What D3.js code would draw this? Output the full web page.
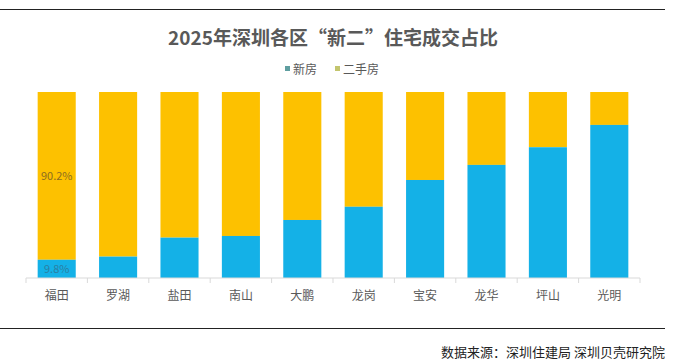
<!DOCTYPE html>
<html>
<head>
<meta charset="utf-8">
<script src="https://cdn.jsdelivr.net/npm/d3@7"></script>
<style>
  body { margin: 0; background: #fff; }
  svg { display: block; font-family: "Noto Sans CJK SC", "Noto Sans", sans-serif; }
</style>
</head>
<body>
<div id="viz"></div>
<script>
"use strict";

var w = 675;
var h = 362;

var districts = ["福田", "罗湖", "盐田", "南山", "大鹏", "龙岗", "宝安", "龙华", "坪山", "光明"];
var newShare = [9.8, 11.5, 21.7, 22.6, 31.2, 38.3, 52.7, 60.8, 70.3, 82.3];
var seriesNames = ["新房", "二手房"];
var colors = ["#14b1e7", "#fdc100"];

var svg = d3.select("#viz")
  .append("svg")
  .attr("width", w)
  .attr("height", h);

// frame lines
svg.append("line")
  .attr("x1", 0).attr("x2", 665).attr("y1", 9.5).attr("y2", 9.5)
  .attr("stroke", "#222").attr("stroke-width", 1.2);
svg.append("line")
  .attr("x1", 0).attr("x2", 665).attr("y1", 328.5).attr("y2", 328.5)
  .attr("stroke", "#222").attr("stroke-width", 1.2);

svg.append("text")
  .attr("x", 333)
  .attr("y", 45)
  .attr("text-anchor", "middle")
  .attr("font-size", 19)
  .attr("font-weight", "bold")
  .attr("fill", "#595959")
  .text("2025年深圳各区“新二”住宅成交占比");

// legend
var legendX = [285, 335];
var legend = svg.append("g");
seriesNames.forEach(function(name, i) {
  legend.append("rect")
    .attr("x", legendX[i]).attr("y", 66)
    .attr("width", 5).attr("height", 5)
    .attr("fill", i === 0 ? "#5f9ea0" : "#c3c56e");
  legend.append("text")
    .attr("x", legendX[i] + 8).attr("y", 73.5)
    .attr("font-size", 12)
    .attr("fill", "#595959")
    .text(name);
});

var x = d3.scaleBand()
  .domain(districts)
  .range([26, 640])
  .paddingInner(0.38)
  .paddingOuter(0.19);

var y = d3.scaleLinear()
  .domain([0, 100])
  .range([278, 92]);

var rows = districts.map(function(d, i) {
  return { name: d, share: newShare[i] };
});

var bars = svg.append("g");
bars.selectAll("rect.old")
  .data(rows).enter()
  .append("rect")
  .classed("old", true)
  .attr("x", function(d) { return x(d.name); })
  .attr("width", x.bandwidth())
  .attr("y", y(100))
  .attr("height", function(d) { return y(d.share) - y(100); })
  .attr("fill", colors[1]);

bars.selectAll("rect.new")
  .data(rows).enter()
  .append("rect")
  .classed("new", true)
  .attr("x", function(d) { return x(d.name); })
  .attr("width", x.bandwidth())
  .attr("y", function(d) { return y(d.share); })
  .attr("height", function(d) { return y(0) - y(d.share); })
  .attr("fill", colors[0]);

// only the first bar's labels are legible
var first = rows[0];
svg.append("text")
  .attr("x", x(first.name) + x.bandwidth() / 2)
  .attr("y", y((100 + first.share) / 2) + 4)
  .attr("text-anchor", "middle")
  .attr("font-size", 11)
  .attr("fill", "#8c6d1f")
  .text((100 - first.share).toFixed(1) + "%");
svg.append("text")
  .attr("x", x(first.name) + x.bandwidth() / 2)
  .attr("y", y(first.share / 2) + 4)
  .attr("text-anchor", "middle")
  .attr("font-size", 11)
  .attr("fill", "#2b7fa3")
  .text(first.share.toFixed(1) + "%");

// axis with ticks at band boundaries
var axisG = svg.append("g")
  .attr("transform", "translate(0," + y(0) + ")");
axisG.append("line")
  .attr("x1", 26).attr("x2", 640)
  .attr("stroke", "#d9d9d9");
var step = x.step();
axisG.selectAll("line.tick")
  .data(d3.range(districts.length + 1)).enter()
  .append("line")
  .classed("tick", true)
  .attr("x1", function(i) { return 26 + i * step; })
  .attr("x2", function(i) { return 26 + i * step; })
  .attr("y1", 0).attr("y2", 5)
  .attr("stroke", "#d9d9d9");
axisG.selectAll("text")
  .data(districts).enter()
  .append("text")
  .attr("x", function(d) { return x(d) + x.bandwidth() / 2; })
  .attr("y", 22)
  .attr("text-anchor", "middle")
  .attr("font-size", 12)
  .attr("fill", "#595959")
  .text(function(d) { return d; });

svg.append("text")
  .attr("x", 665)
  .attr("y", 357)
  .attr("text-anchor", "end")
  .attr("font-size", 13)
  .attr("fill", "#222")
  .text("数据来源：深圳住建局 深圳贝壳研究院");
</script>
</body>
</html>
